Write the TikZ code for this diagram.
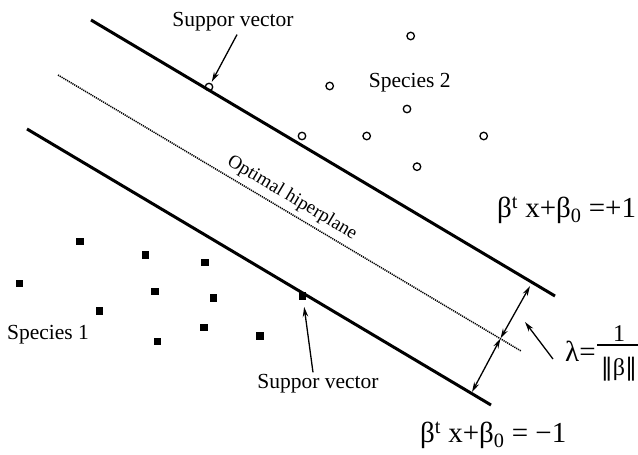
\documentclass[tikz,border=0pt]{standalone}
\usepackage{fontspec}
\setmainfont{Liberation Serif}
\newfontfamily\dvs{DejaVu Serif}
\usetikzlibrary{arrows.meta}
\begin{document}
\begin{tikzpicture}[x=1pt,y=-1pt,
  marginline/.style={line width=3pt},
  hyper/.style={line width=1.5pt, dash pattern=on 1.2pt off 0.9pt},
  arr/.style={line width=1.3pt, -{Stealth[length=10pt,width=5.5pt]}},
  darr/.style={line width=1.3pt, {Stealth[length=10pt,width=5.5pt]}-{Stealth[length=10pt,width=5.5pt]}},
  pt2/.style={circle, draw, line width=1.3pt, minimum size=7.5pt, inner sep=0pt},
  pt1/.style={rectangle, fill, minimum size=7.5pt, inner sep=0pt},
  lbl/.style={font=\fontsize{21.5}{24}\selectfont, inner sep=0pt},
  eq/.style={font=\fontsize{29}{32}\selectfont, inner sep=0pt}
]
\useasboundingbox (0,0) rectangle (638,455);
% lines
\coordinate (u1) at (91,20); \coordinate (u2) at (555,296);
\coordinate (l1) at (27,129); \coordinate (l2) at (491,405);
\coordinate (h1) at (58,75); \coordinate (h2) at (521,351);
\draw[marginline] (u1) -- (u2);
\draw[marginline] (l1) -- (l2);
\draw[hyper] (h1) -- (h2);
% species 2
\node[pt2] (c1) at (209,87) {};
\node[pt2] (c2) at (302,136) {};
\node[pt2] (c3) at (329.7,86) {};
\node[pt2] (c4) at (410.7,36) {};
\node[pt2] (c5) at (407,109) {};
\node[pt2] (c6) at (366.7,136) {};
\node[pt2] (c7) at (483.7,136) {};
\node[pt2] (c8) at (417,166.7) {};
% species 1
\node[pt1] (s1) at (80,241.7) {};
\node[pt1] (s2) at (145.7,255) {};
\node[pt1] (s3) at (205,262.3) {};
\node[pt1] (s4) at (19.3,283.7) {};
\node[pt1] (s5) at (155,291.7) {};
\node[pt1] (s6) at (213.3,298) {};
\node[pt1] (s7) at (99.3,311) {};
\node[pt1] (s8) at (204,327.7) {};
\node[pt1] (s9) at (157.7,341.7) {};
\node[pt1] (s10) at (260,336) {};
\node[pt1] (s11) at (302.7,296) {};
% labels
\node[lbl] (sp2) at (409.7,83) {Species 2};
\node[lbl] (sp1) at (48,335) {Species 1};
\node[lbl] (svt) at (233,22) {Suppor vector};
\node[lbl] (svb) at (318,384) {Suppor vector};
\node[font=\fontsize{19}{22}\selectfont, inner sep=0pt, rotate=-30.75] (opt) at (292,198) {Optimal hiperplane};
\draw[arr, shorten >=1.5pt] ([xshift=4pt,yshift=-3pt]svt.south) -- (c1);
\draw[arr, shorten >=7pt] ([xshift=-5pt,yshift=2pt]svb.north) -- (s11);
% margin arrows
\coordinate (m) at (500.5,338.5);
\coordinate (ut) at (530,286);
\coordinate (lt) at (472,392);
\draw[darr] (m) -- (ut);
\draw[darr] (m) -- (lt);
% equations
\node[eq, anchor=west] (eqp) at (497,210) {β\textsuperscript{t} x+β\textsubscript{0} =+1};
\node[eq, anchor=west] (eqm) at (420,435) {β\textsuperscript{t} x+β\textsubscript{0} = −1};
% lambda
\node[eq, anchor=west] (lam) at (565,351) {λ=};
\coordinate (lamtip) at (525,322);
\draw[arr] ([xshift=-12pt,yshift=-8pt]lam.west) -- (lamtip);
\coordinate (fb1) at (597,345); \coordinate (fb2) at (640,345);
\draw[line width=1.1pt] (fb1) -- (fb2);
\node[font=\fontsize{24}{26}\selectfont, inner sep=0pt] (num) at (619,334) {1};
\node[font=\fontsize{24}{26}\selectfont, inner sep=0pt] (den) at (619,369) {{\dvs ‖}β{\dvs ‖}};
\end{tikzpicture}
\end{document}
